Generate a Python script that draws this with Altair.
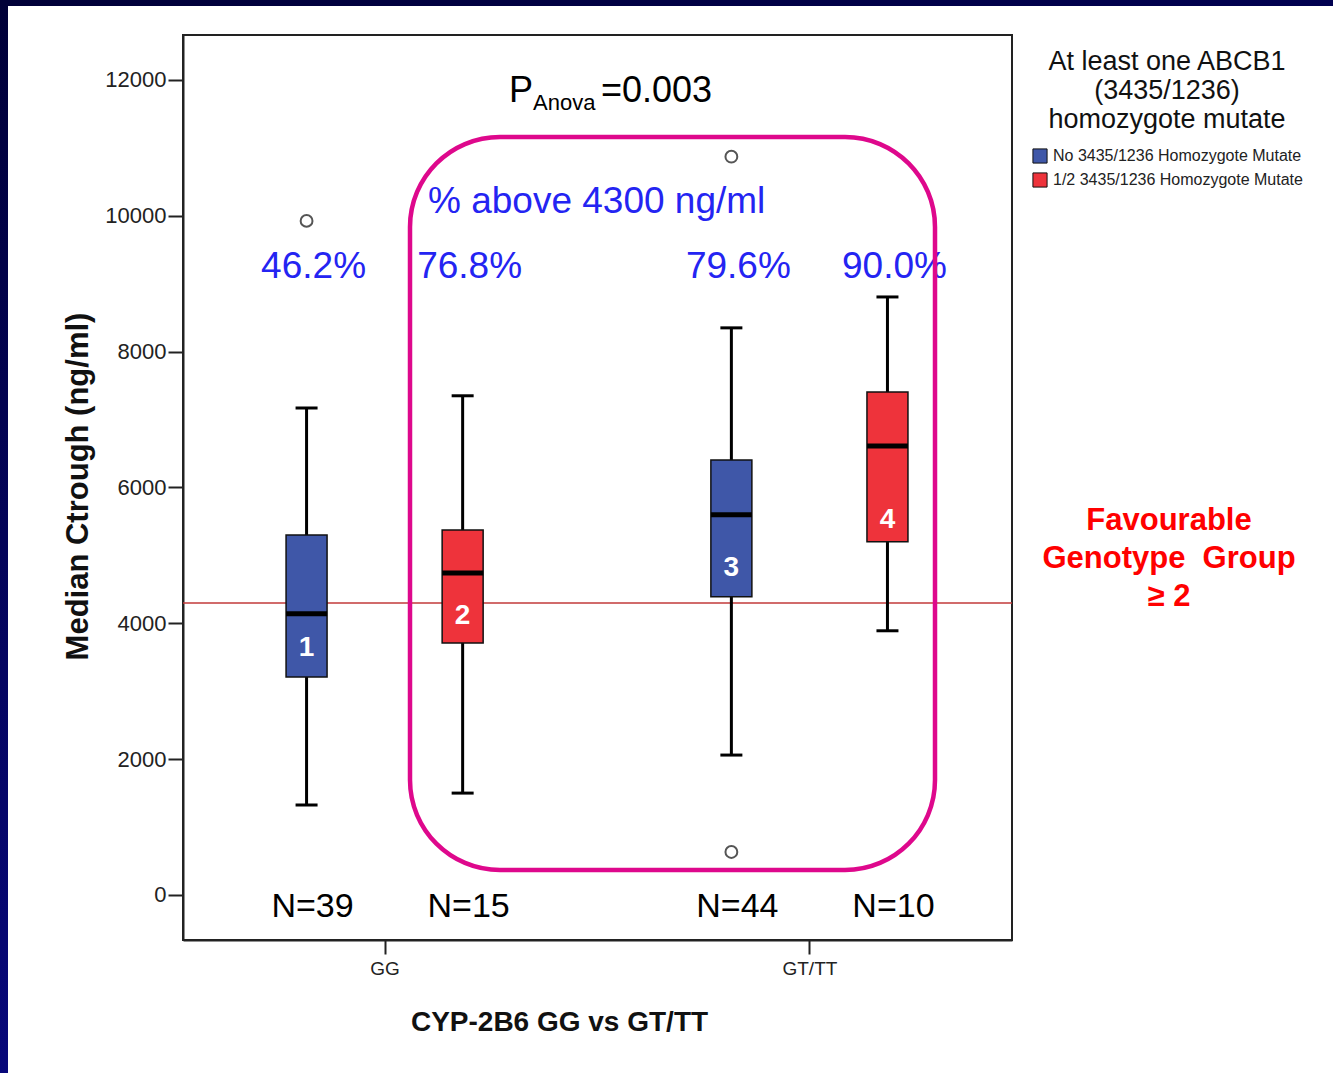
import altair as alt
import pandas as pd

# ---------------- data ----------------
groups = ["GG", "GG", "GT/TT", "GT/TT"]
series = ["No 3435/1236 Homozygote Mutate", "1/2 3435/1236 Homozygote Mutate",
          "No 3435/1236 Homozygote Mutate", "1/2 3435/1236 Homozygote Mutate"]
box_ids = ["1", "2", "3", "4"]
whisker_low = [1325, 1500, 2060, 3890]
q1 = [3210, 3710, 4390, 5200]
median = [4140, 4740, 5600, 6610]
q3 = [5300, 5375, 6405, 7405]
whisker_high = [7170, 7350, 8350, 8805]
n_values = [39, 15, 44, 10]
pct_above = ["46.2%", "76.8%", "79.6%", "90.0%"]

outlier_group = ["GG", "GT/TT", "GT/TT"]
outlier_series = ["No 3435/1236 Homozygote Mutate"] * 3
outlier_value = [9925, 10870, 633]

threshold = [4300]
box_label_y = [3520, 3990, 4700, 5400]

series_order = ["No 3435/1236 Homozygote Mutate", "1/2 3435/1236 Homozygote Mutate"]
group_order = ["GG", "GT/TT"]

# ---------------- layout helpers ----------------
FONT = "Liberation Sans"
BLUE = "#3F57A8"
RED = "#EE333B"
TXT_BLUE = "#2424F2"
MAGENTA = "#DE088C"
OFF = 0.1837


def xpos(g, s):
    return group_order.index(g) + 1 + (OFF if s.startswith("1/2") else -OFF)


df = pd.DataFrame({
    "group": groups, "series": series, "id": box_ids,
    "low": whisker_low, "q1": q1, "median": median, "q3": q3, "high": whisker_high,
    "nlabel": [f"N={n}" for n in n_values], "pct": pct_above, "label_y": box_label_y,
})
df["xpos"] = [xpos(g, s) for g, s in zip(groups, series)]

df_out = pd.DataFrame({"group": outlier_group, "series": outlier_series, "value": outlier_value})
df_out["xpos"] = [xpos(g, s) for g, s in zip(outlier_group, outlier_series)]

df_thr = pd.DataFrame({"y": threshold})
one = pd.DataFrame({"a": [0]})

xscale = alt.Scale(domain=[0.5372, 2.4651], nice=False, zero=False)
yscale = alt.Scale(domain=[-663, 12662], nice=False, zero=False)
XT = "CYP-2B6 GG vs GT/TT"
YT = "Median Ctrough (ng/ml)"

xaxis = alt.Axis(values=[1, 2], labelExpr="datum.value == 1 ? 'GG' : 'GT/TT'",
                 grid=False, tickSize=14, tickWidth=2, tickColor="#222",
                 domainColor="#222", domainWidth=2, labelFontSize=19, labelColor="#222",
                 labelPadding=5, labelFont=FONT, titleFont=FONT, titleFontSize=28,
                 titleFontWeight="bold", titleColor="#111", titleX=376, titleY=90,
                 titleAlign="center", titleBaseline="alphabetic")
yaxis = alt.Axis(values=[0, 2000, 4000, 6000, 8000, 10000, 12000], format="d",
                 grid=False, tickSize=15, tickWidth=2, tickColor="#222",
                 domainColor="#222", domainWidth=2, labelFontSize=22, labelColor="#222",
                 labelPadding=2, labelFont=FONT, titleFont=FONT, titleFontSize=31,
                 titleFontWeight="bold", titleColor="#111", titleAngle=270,
                 titleX=-96, titleY=451, titleAlign="center", titleBaseline="alphabetic")


def X():
    return alt.X("xpos:Q", scale=xscale, axis=xaxis, title=XT)


def Y(field):
    return alt.Y(field, scale=yscale, axis=yaxis, title=YT)


base = alt.Chart(df)

# navy page border strips
navy = alt.LinearGradient(gradient="linear",
                          stops=[alt.GradientStop(color="#000038", offset=0),
                                 alt.GradientStop(color="#08087A", offset=1)],
                          x1=0, x2=0, y1=0, y2=1)
navy_h = alt.LinearGradient(gradient="linear",
                            stops=[alt.GradientStop(color="#000038", offset=0),
                                   alt.GradientStop(color="#000050", offset=1)],
                            x1=0, x2=1, y1=0, y2=0)
left_strip = alt.Chart(one).mark_rect(fill=navy).encode(
    x=alt.value(-183), x2=alt.value(-175), y=alt.value(-35), y2=alt.value(1038))
top_strip = alt.Chart(one).mark_rect(fill=navy_h).encode(
    x=alt.value(-183), x2=alt.value(1150), y=alt.value(-35), y2=alt.value(-29))

thr_line = alt.Chart(df_thr).mark_rule(color="#C23A3A", strokeWidth=1.5).encode(y=Y("y:Q"))

whiskers = base.mark_rule(color="black", strokeWidth=3).encode(x=X(), y=Y("low:Q"), y2="high:Q")
caps_low = base.mark_tick(orient="horizontal", size=22, thickness=3, color="black", opacity=1).encode(
    x=X(), y=Y("low:Q"))
caps_high = base.mark_tick(orient="horizontal", size=22, thickness=3, color="black", opacity=1).encode(
    x=X(), y=Y("high:Q"))
boxes = base.mark_bar(size=41, stroke="#111", strokeWidth=1.5, opacity=1).encode(
    x=X(), y=Y("q1:Q"), y2="q3:Q",
    color=alt.Color("series:N", scale=alt.Scale(domain=series_order, range=[BLUE, RED]),
                    legend=alt.Legend(
                        title=["At least one ABCB1", "(3435/1236)", "homozygote mutate"],
                        orient="none", legendX=849, legendY=14,
                        titleFont=FONT, titleFontSize=27, titleFontWeight="normal",
                        titleColor="#111", titleLineHeight=29, titleAnchor="middle",
                        titleAlign="center", titlePadding=14, titleLimit=500,
                        labelFont=FONT, labelFontSize=16, labelColor="#222", labelOffset=5,
                        symbolType="square", symbolSize=200, symbolStrokeColor="#111",
                        symbolStrokeWidth=1, symbolOpacity=1, rowPadding=4,
                        labelLimit=400)))
medians = base.mark_tick(orient="horizontal", size=41, thickness=5, color="black", opacity=1).encode(
    x=X(), y=Y("median:Q"))
outliers = alt.Chart(df_out).mark_point(shape="circle", filled=False, size=140,
                                        color="#555", strokeWidth=2, opacity=1).encode(
    x=X(), y=Y("value:Q"))

id_text = base.mark_text(font=FONT, fontSize=28, fontWeight="bold", color="white",
                         baseline="alphabetic").encode(x=X(), y=Y("label_y:Q"), text="id:N")
pct_text = base.mark_text(font=FONT, fontSize=37, color=TXT_BLUE, baseline="alphabetic", dx=7).encode(
    x=X(), y=alt.value(243), text="pct:N")
n_text = base.mark_text(font=FONT, fontSize=34, color="black", baseline="alphabetic", dx=6).encode(
    x=X(), y=alt.value(882), text="nlabel:N")

frame_box = alt.Chart(one).mark_rect(cornerRadius=90, fillOpacity=0, stroke=MAGENTA,
                                     strokeWidth=4.5).encode(
    x=alt.value(227), x2=alt.value(752), y=alt.value(102), y2=alt.value(835))

above_text = alt.Chart(one).mark_text(text="% above 4300 ng/ml", font=FONT, fontSize=37,
                                      color=TXT_BLUE, align="left", baseline="alphabetic").encode(
    x=alt.value(245), y=alt.value(178))
p_main = alt.Chart(one).mark_text(text="P", font=FONT, fontSize=36, color="black",
                                  align="left", baseline="alphabetic").encode(
    x=alt.value(326), y=alt.value(67))
p_sub = alt.Chart(one).mark_text(text="Anova", font=FONT, fontSize=22, color="black",
                                 align="left", baseline="alphabetic").encode(
    x=alt.value(350), y=alt.value(75))
p_val = alt.Chart(one).mark_text(text="=0.003", font=FONT, fontSize=36, color="black",
                                 align="left", baseline="alphabetic").encode(
    x=alt.value(418), y=alt.value(67))
fav_text = alt.Chart(one).mark_text(text=["Favourable", "Genotype\u00a0 Group", "≥ 2"], font=FONT,
                                    fontSize=31, fontWeight="bold", color="#FF0000",
                                    align="center", baseline="alphabetic", lineHeight=38).encode(
    x=alt.value(986), y=alt.value(495))

chart = alt.layer(
    left_strip, top_strip, thr_line, whiskers, caps_low, caps_high, boxes, medians,
    outliers, id_text, pct_text, n_text, frame_box, above_text, p_main, p_sub, p_val, fav_text
).properties(
    width=829, height=905, padding=0, background="white"
).configure_view(
    stroke="#222", strokeWidth=2
)

chart.save("out.html", embed_options={"renderer": "svg", "actions": False})
